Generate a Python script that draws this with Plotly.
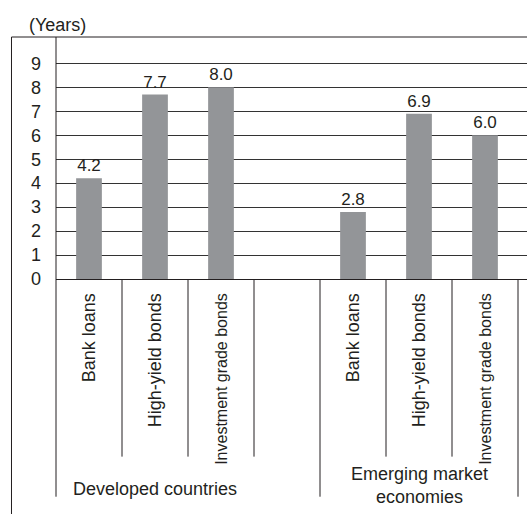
import plotly.graph_objects as go

# Average maturity at issuance, in years
instruments = ["Bank loans", "High-yield bonds", "Investment grade bonds"]
developed = [4.2, 7.7, 8.0]
emerging = [2.8, 6.9, 6.0]
group_labels = ["Developed countries", "Emerging market<br>economies"]
y_ticks = list(range(0, 10))

# slot layout: developed bars, one blank spacer slot, emerging bars
dev_pos = [0, 1, 2]
em_pos = [4, 5, 6]
positions = dev_pos + em_pos
values = developed + emerging
labels = instruments + instruments

FONT = "Liberation Sans, Arial, sans-serif"
INK = "#231f20"
BAR = "#939598"

W, H = 527, 514
ML, MR, MT, MB = 56, 0, 37, 235
SLOT_PX = 66
XR = [-0.5, -0.5 + (W - ML - MR) / SLOT_PX]
YR = [0, 10.1]


def xpaper(v):
    return (v - XR[0]) / (XR[1] - XR[0])


def tick_text(s):
    # the longest label is set a little smaller so it fits its column
    if len(s) > 18:
        return f'<span style="font-size:16px">{s}</span>'
    return s


fig = go.Figure(
    go.Bar(
        x=positions,
        y=values,
        width=0.39,
        marker=dict(color=BAR, line=dict(width=0)),
        text=[f"{v:.1f}" for v in values],
        textposition="outside",
        textfont=dict(family=FONT, size=17, color=INK),
        constraintext="none",
        cliponaxis=False,
        hoverinfo="skip",
    )
)

shapes = []
# outer frame: left edge and top edge
shapes.append(dict(type="line", xref="paper", yref="paper",
                   x0=-0.0945, x1=-0.0945, y0=1, y1=-0.99,
                   line=dict(color=INK, width=1)))
shapes.append(dict(type="line", xref="paper", yref="paper",
                   x0=-0.0945, x1=1.0, y0=1, y1=1,
                   line=dict(color=INK, width=1)))

# slot dividers under the axis; group boundaries run longer
group_bounds = [-0.5, 3.5, 6.5]
for b in [p + 0.5 for p in range(-1, 7)]:
    long_line = b in group_bounds
    y_top = 1 if b == -0.5 else 0
    shapes.append(dict(type="line", xref="paper", yref="paper",
                       x0=xpaper(b), x1=xpaper(b),
                       y0=y_top, y1=-0.8996 if long_line else -0.734,
                       line=dict(color=INK, width=1)))

annotations = [
    dict(text="(Years)", xref="paper", yref="paper", x=0.004, y=1.0496,
         xanchor="center", yanchor="middle", showarrow=False,
         font=dict(family=FONT, size=18, color=INK)),
]
group_centers = [sum(dev_pos) / len(dev_pos), sum(em_pos) / len(em_pos)]
group_y = [-0.868, -0.855]
for name, cx, gy in zip(group_labels, group_centers, group_y):
    annotations.append(dict(text=name, xref="paper", yref="paper",
                            x=xpaper(cx), y=gy, xanchor="center",
                            yanchor="middle", showarrow=False,
                            font=dict(family=FONT, size=18, color=INK)))

fig.update_layout(
    template="none",
    width=W, height=H,
    margin=dict(l=ML, r=MR, t=MT, b=MB, pad=0),
    paper_bgcolor="white", plot_bgcolor="white",
    showlegend=False,
    shapes=shapes,
    annotations=annotations,
    xaxis=dict(
        range=XR, tickmode="array", tickvals=positions,
        ticktext=[tick_text(s) for s in labels],
        tickangle=-90, ticks="", ticklabelstandoff=6,
        tickfont=dict(family=FONT, size=18, color=INK),
        showgrid=False, zeroline=False, showline=True,
        linecolor=INK, linewidth=1, automargin=False,
    ),
    yaxis=dict(
        range=YR, tickmode="array", tickvals=y_ticks,
        ticks="", ticklabelstandoff=14,
        tickfont=dict(family=FONT, size=18, color=INK),
        showgrid=True, gridcolor="#333333", gridwidth=1,
        zeroline=False, showline=False, automargin=False,
    ),
)

fig.write_html("out.html")
